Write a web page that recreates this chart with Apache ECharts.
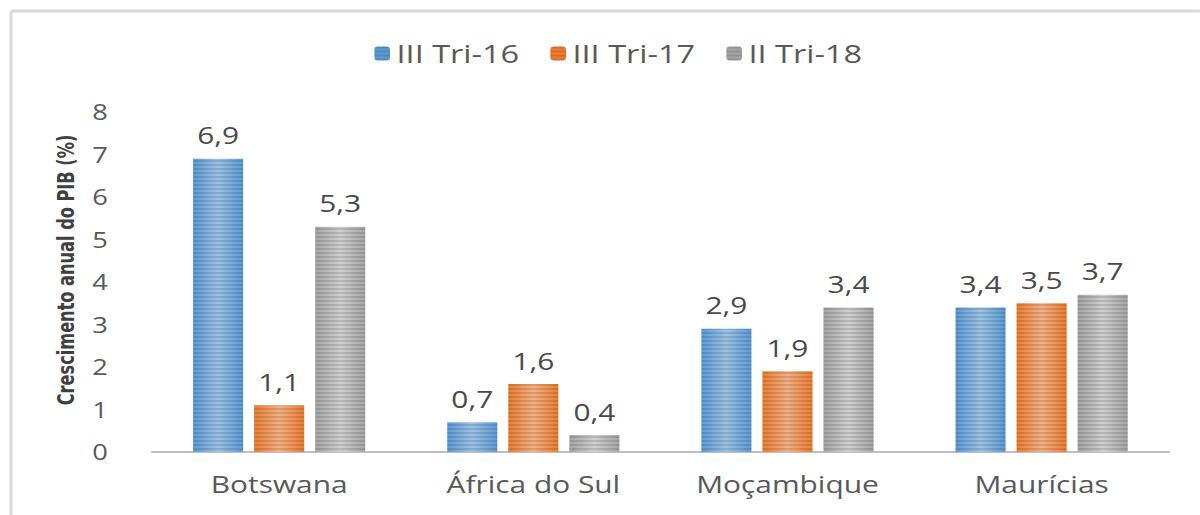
<!DOCTYPE html>
<html><head><meta charset="utf-8">
<script src="https://cdn.jsdelivr.net/npm/echarts@6/dist/echarts.min.js"></script>
<style>html,body{margin:0;padding:0;background:#fff;overflow:hidden}#c{width:923px;height:515px;transform:scaleX(1.3);transform-origin:0 0}</style>
</head><body><div id="c"></div>
<script>
const categories = ['Botswana', 'África do Sul', 'Moçambique', 'Maurícias'];
const seriesNames = ['III Tri-16', 'III Tri-17', 'II Tri-18'];
const tri16 = [6.9, 0.7, 2.9, 3.4];
const tri17 = [1.1, 1.6, 1.9, 3.5];
const tri18 = [5.3, 0.4, 3.4, 3.7];
const colors = ['#5B9BD5', '#ED7D31', '#A5A5A5'];
const lights = ['#9DC3E6', '#F4B183', '#D0D0D0'];

const chart = echarts.init(document.getElementById('c'), null, {renderer: 'svg'});
const font = '"Open Sans", "Noto Sans", sans-serif';
function mk(name, data, i) {
  return {
    name: name, type: 'bar', data: data, barWidth: 38.5, barGap: '22%',
    itemStyle: {
      color: new echarts.graphic.LinearGradient(0, 0, 1, 0, [
        {offset: 0, color: colors[i]}, {offset: 0.5, color: lights[i]}, {offset: 1, color: colors[i]}
      ]),
      decal: {symbol: 'rect', symbolSize: 1, dashArrayX: [1, 0], dashArrayY: [2, 2], rotation: 0, color: 'rgba(0,0,0,0.12)'}
    },
    label: {show: true, position: 'top', distance: 12, color: '#4a4a4a', fontSize: 23, fontFamily: font,
      formatter: p => String(p.value).replace('.', ',')}
  };
}
chart.setOption({
  animation: false,
  color: colors,
  legend: {top: 36, left: 283, itemWidth: 12, itemHeight: 14, itemGap: 24,
    textStyle: {color: '#595959', fontSize: 25, fontFamily: font},
    data: seriesNames.map((n, i) => ({name: n, itemStyle: {color: colors[i]}}))},
  grid: {left: 117, right: 24, top: 112, bottom: 63},
  xAxis: {type: 'category', data: categories,
    axisLine: {lineStyle: {color: '#bfbfbf', width: 2}}, axisTick: {show: false},
    axisLabel: {color: '#595959', fontSize: 23, fontFamily: font, margin: 20}},
  yAxis: {type: 'value', min: 0, max: 8, interval: 1,
    name: 'Crescimento anual do PIB (%)', nameLocation: 'middle', nameGap: 45,
    nameTextStyle: {fontSize: 18, fontWeight: 'bold', color: '#404040', padding: [0, 0, 0, 24],
      fontFamily: '"DejaVu Sans Condensed", "Liberation Sans Narrow", sans-serif'},
    axisLine: {show: false}, axisTick: {show: false}, splitLine: {show: false},
    axisLabel: {color: '#595959', fontSize: 21, fontFamily: font, margin: 34}},
  graphic: [
    {type: 'line', shape: {x1: 8.5, y1: 11, x2: 8.5, y2: 515}, style: {stroke: '#d9d9d9', lineWidth: 2.3}},
    {type: 'line', shape: {x1: 8.5, y1: 11, x2: 923, y2: 11}, style: {stroke: '#d9d9d9', lineWidth: 3}}
  ],
  series: [mk(seriesNames[0], tri16, 0), mk(seriesNames[1], tri17, 1), mk(seriesNames[2], tri18, 2)]
});
</script></body></html>
